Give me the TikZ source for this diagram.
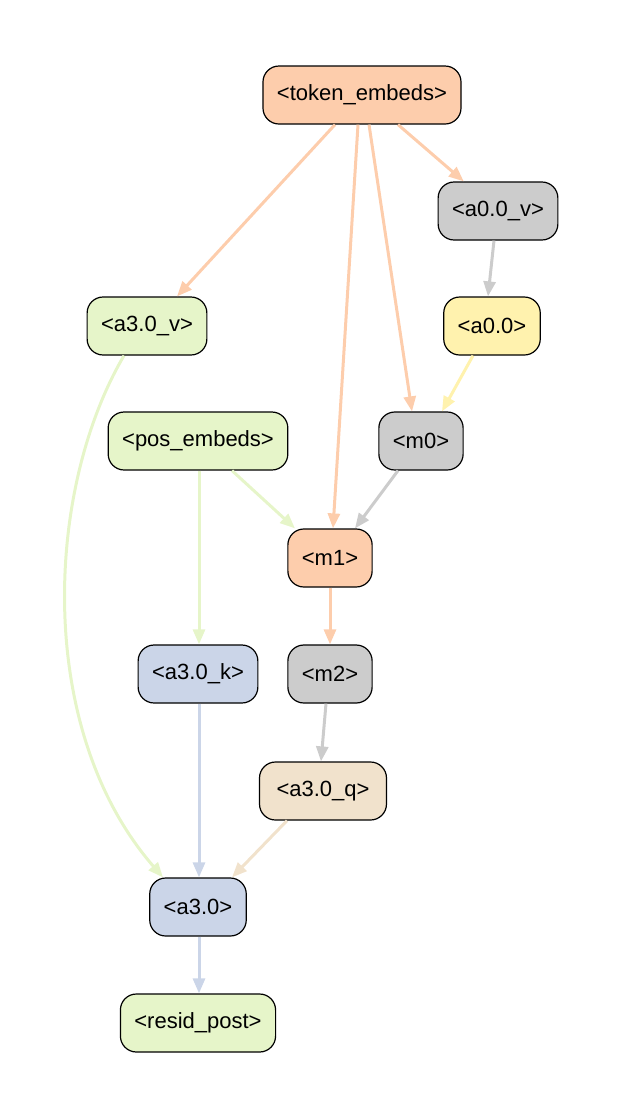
\documentclass[tikz,border=0pt]{standalone}
\usepackage{fontspec}
\setmainfont{Liberation Sans}
\usetikzlibrary{arrows.meta}

\definecolor{cpeach}{HTML}{FDCDAC}
\definecolor{cgray}{HTML}{CCCCCC}
\definecolor{cgreen}{HTML}{E6F5C9}
\definecolor{cyellow}{HTML}{FFF2AE}
\definecolor{cblue}{HTML}{CBD5E8}
\definecolor{cbeige}{HTML}{F1E2CC}

\tikzset{
  blk/.style={draw, line width=1.2pt, rounded corners=16pt, minimum height=58pt,
    inner xsep=14pt, font=\fontsize{22}{26}\selectfont},
  lnk/.style={->, line width=3pt}
}

\begin{document}
\begin{tikzpicture}[x=1pt, y=-1pt, >={Triangle[length=15pt,width=12pt]}]
        \useasboundingbox (0,0) rectangle (623,1117);
        % nodes
        \node[blk, fill=cpeach]  (tok)  at (362,95)   {<token\_embeds>};
        \node[blk, fill=cgray]   (a00v) at (498,211)  {<a0.0\_v>};
        \node[blk, fill=cgreen]  (a30v) at (147,326)  {<a3.0\_v>};
        \node[blk, fill=cyellow] (a00)  at (492,326)  {<a0.0>};
        \node[blk, fill=cgreen]  (pos)  at (198,441)  {<pos\_embeds>};
        \node[blk, fill=cgray]   (m0)   at (421,441)  {<m0>};
        \node[blk, fill=cpeach]  (m1)   at (330,558)  {<m1>};
        \node[blk, fill=cblue]   (a30k) at (198,674)  {<a3.0\_k>};
        \node[blk, fill=cgray]   (m2)   at (330,674)  {<m2>};
        \node[blk, fill=cbeige, inner xsep=17pt] (a30q) at (323,791) {<a3.0\_q>};
        \node[blk, fill=cblue]   (a30)  at (198,907)  {<a3.0>};
        \node[blk, fill=cgreen]  (res)  at (198,1023) {<resid\_post>};
        % edges
        \draw[lnk, cpeach] ([xshift=36pt]tok.south) -- (a00v);
        \draw[lnk, cpeach] ([xshift=-27pt]tok.south) -- ([xshift=30pt]a30v.north);
        \draw[lnk, cpeach] ([xshift=-4pt]tok.south) -- ([xshift=3pt]m1.north);
        \draw[lnk, cpeach] ([xshift=7pt]tok.south) -- ([xshift=-9pt]m0.north);
        \draw[lnk, cgray] ([xshift=-4pt]a00v.south) -- ([xshift=-4pt]a00.north);
        \draw[lnk, cyellow] ([xshift=-19pt]a00.south) -- ([xshift=21pt]m0.north);
        \draw[lnk, cgray] ([xshift=-23pt]m0.south) -- ([xshift=25pt]m1.north);
        \draw[lnk, cgreen] ([xshift=34pt]pos.south) -- ([xshift=-35pt]m1.north);
        \draw[lnk, cgreen] ([xshift=1pt]pos.south) -- ([xshift=1pt]a30k.north);
        \draw[lnk, cgreen] ([xshift=-23pt]a30v.south) .. controls (45,490) and (35,730) .. ([xshift=-35pt]a30.north);
        \draw[lnk, cpeach] (m1) -- (m2);
        \draw[lnk, cgray] ([xshift=-4pt]m2.south) -- ([xshift=-2pt]a30q.north);
        \draw[lnk, cbeige] ([xshift=-36pt]a30q.south) -- ([xshift=34pt]a30.north);
        \draw[lnk, cblue] ([xshift=1pt]a30k.south) -- ([xshift=1pt]a30.north);
        \draw[lnk, cblue] ([xshift=1pt]a30.south) -- ([xshift=1pt]res.north);
      \end{tikzpicture}
\end{document}
